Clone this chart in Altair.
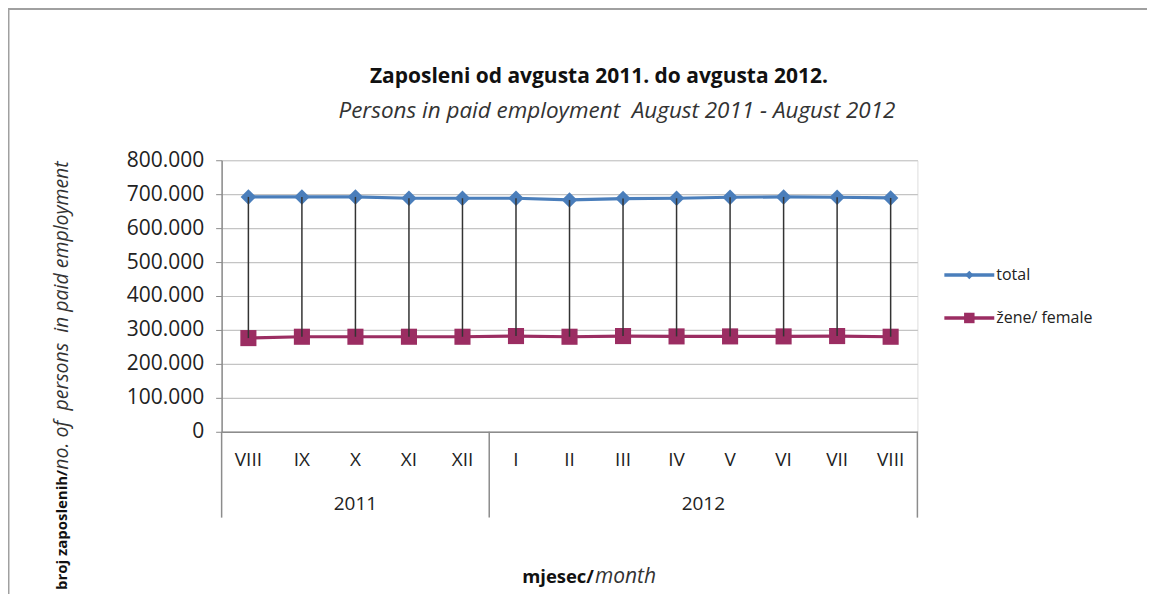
import altair as alt
import pandas as pd

# ---- data ----
months = ["VIII", "IX", "X", "XI", "XII", "I", "II", "III", "IV", "V", "VI", "VII", "VIII"]
years = ["2011"] * 5 + ["2012"] * 8
total = [692000, 692000, 692000, 688000, 688000, 688000, 683000, 687000, 688000, 691000, 692000, 691000, 689000]
female = [276000, 280000, 280000, 280000, 280000, 282000, 280000, 282000, 281000, 281000, 281000, 282000, 280000]
series_names = ["total", "žene/ female"]
series_colors = ["#4a7ebb", "#9b2d62"]
y_ticks = [0, 100000, 200000, 300000, 400000, 500000, 600000, 700000, 800000]
title_text = "Zaposleni od avgusta 2011. do avgusta 2012."
subtitle_text = "Persons in paid employment \u00a0August 2011 - August 2012"
ytitle_bold, ytitle_italic = "broj zaposlenih/", " no. of \u00a0persons \u00a0in paid employment"
xtitle_bold, xtitle_italic = "mjesec/", "month"

FONT = "Open Sans"
W, H = 697, 272

keys = [f"{y}-{m}-{i}" for i, (y, m) in enumerate(zip(years, months))]
df = pd.DataFrame({"key": keys, "month": months, "year": years, "total": total, "female": female})

x_axis = alt.Axis(
    title=None, ticks=False, grid=False, domainColor="#8c8c8c", domainWidth=1.5,
    labelExpr="split(datum.value, '-')[1]", labelAngle=0, labelPadding=19,
    labelFont=FONT, labelFontSize=19, labelColor="#222",
)
x_scale = alt.Scale(type="band", paddingInner=0, paddingOuter=0, domain=keys)


def X(bp=0.5):
    return alt.X("key:N", sort=keys, scale=x_scale, bandPosition=bp, axis=x_axis)


y_scale = alt.Scale(domain=[0, 800000])
y_axis = alt.Axis(
    title=None, values=y_ticks, grid=True, gridColor="#c4c4c4", gridWidth=1.2,
    domainColor="#8c8c8c", domainWidth=1.5, tickColor="#8c8c8c", tickSize=6,
    labelExpr="replace(format(datum.value, ','), /,/g, '.')", labelOverlap=False,
    labelFont=FONT, labelFontSize=21, labelColor="#222", labelPadding=12,
)


def Y(field):
    return alt.Y(field, scale=y_scale, axis=y_axis)


base = alt.Chart(df)

total_line = base.mark_line(color=series_colors[0], strokeWidth=3.2).encode(x=X(), y=Y("total:Q"))
female_line = base.mark_line(color=series_colors[1], strokeWidth=3.2).encode(x=X(), y=Y("female:Q"))
total_pts = base.mark_point(shape="diamond", filled=True, size=240, opacity=1, color=series_colors[0]).encode(
    x=X(), y=Y("total:Q"))
female_pts = base.mark_point(shape="square", filled=True, size=260, opacity=1, color=series_colors[1]).encode(
    x=X(), y=Y("female:Q"))
hilo = base.mark_rule(color="#333333", strokeWidth=1.5).encode(x=X(), y=Y("total:Q"), y2="female:Q")

# year group labels and separators
layers_year = []
year_list = list(dict.fromkeys(years))
first_keys = []
for yr in year_list:
    ks = [k for k, y in zip(keys, years) if y == yr]
    first_keys.append(ks[0])
    n = len(ks)
    if n % 2 == 1:
        mid_key, bp = ks[n // 2], 0.5
    else:
        mid_key, bp = ks[n // 2 - 1], 1.0
    d = pd.DataFrame({"key": [mid_key], "year": [yr]})
    layers_year.append(
        alt.Chart(d).mark_text(font=FONT, fontSize=19, color="#222", baseline="middle").encode(
            x=X(bp), y=alt.value(H + 72), text="year:N")
    )
sep_first = alt.Chart(pd.DataFrame({"key": first_keys})).mark_rule(color="#8c8c8c", strokeWidth=1.5).encode(
    x=X(0), y=alt.value(H), y2=alt.value(H + 86))
sep_last = alt.Chart(pd.DataFrame({"key": [keys[-1]]})).mark_rule(color="#8c8c8c", strokeWidth=1.5).encode(
    x=X(1), y=alt.value(H), y2=alt.value(H + 86))

# legend
legend_layers = []
for i, (nm, col) in enumerate(zip(series_names, series_colors)):
    d = pd.DataFrame({"name": [nm]})
    ly = 115 + 43 * i
    legend_layers.append(alt.Chart(d).mark_rule(color=col, strokeWidth=3.5).encode(
        x=alt.value(724), x2=alt.value(774), y=alt.value(ly)))
    legend_layers.append(alt.Chart(d).mark_point(
        shape="diamond" if i == 0 else "square", filled=True, opacity=1, color=col,
        size=70 if i == 0 else 110).encode(x=alt.value(749), y=alt.value(ly)))
    legend_layers.append(alt.Chart(d).mark_text(
        font=FONT, fontSize=16, color="#222", align="left", baseline="middle").encode(
        x=alt.value(776), y=alt.value(ly), text="name:N"))

# titles
tdf = pd.DataFrame({"t": [title_text], "s": [subtitle_text]})
title_l = alt.Chart(tdf).mark_text(font=FONT, fontSize=21, fontWeight="bold", color="#111").encode(
    x=alt.value(378), y=alt.value(-83), text="t:N")
subtitle_l = alt.Chart(tdf).mark_text(font=FONT, fontSize=22.5, fontStyle="italic", color="#333").encode(
    x=alt.value(396), y=alt.value(-49), text="s:N")

ydf = pd.DataFrame({"b": [ytitle_bold], "i": [ytitle_italic]})
ytitle_b = alt.Chart(ydf).mark_text(font=FONT, fontSize=15, fontWeight="bold", color="#111", angle=270,
                                    align="right", baseline="middle").encode(
    x=alt.value(-160), y=alt.value(310), text="b:N")
ytitle_i = alt.Chart(ydf).mark_text(font=FONT, fontSize=19.5, fontStyle="italic", color="#333", angle=270,
                                    align="left", baseline="middle").encode(
    x=alt.value(-160), y=alt.value(310), text="i:N")

xdf = pd.DataFrame({"b": [xtitle_bold], "i": [xtitle_italic]})
xtitle_b = alt.Chart(xdf).mark_text(font=FONT, fontSize=18.5, fontWeight="bold", color="#111",
                                    align="right", baseline="middle").encode(
    x=alt.value(373), y=alt.value(417), text="b:N")
xtitle_i = alt.Chart(xdf).mark_text(font=FONT, fontSize=21, fontStyle="italic", color="#333",
                                    align="left", baseline="middle").encode(
    x=alt.value(374), y=alt.value(417), text="i:N")

# outer frame: only its top and left edges fall inside the picture
fdf = pd.DataFrame({"f": [1]})
frame_top = alt.Chart(fdf).mark_rule(color="#a0a0a0", strokeWidth=3).encode(
    x=alt.value(-215.5), x2=alt.value(1000), y=alt.value(-152))
frame_left = alt.Chart(fdf).mark_rule(color="#a0a0a0", strokeWidth=3).encode(
    x=alt.value(-214), y=alt.value(-153.5), y2=alt.value(H + 220))

chart = alt.layer(
    frame_top, frame_left, total_line, female_line, total_pts, female_pts, hilo, sep_first, sep_last,
    *layers_year, *legend_layers, title_l, subtitle_l, ytitle_b, ytitle_i, xtitle_b, xtitle_i,
).properties(
    width=W, height=H,
    autosize=alt.AutoSizeParams(type="none"),
    padding={"left": 214, "top": 152, "right": 230, "bottom": 162},
).configure_view(stroke="transparent").configure_axisY(labelOverlap=False).configure(background="white")

chart.save("out.html", embed_options={"renderer": "svg", "actions": False})
